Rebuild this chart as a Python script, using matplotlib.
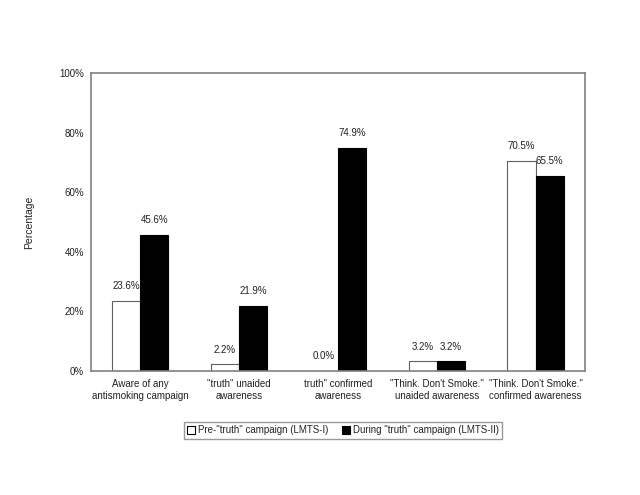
"""
Awareness of antismoking campaigns before and during the "truth" campaign
"""

import numpy as np
import matplotlib.pyplot as plt
from matplotlib import font_manager

# keep the regular Liberation Sans, drop the narrow cut
font_manager.fontManager.ttflist = [f for f in font_manager.fontManager.ttflist
                                    if 'Narrow' not in f.fname]
plt.rcParams['font.family'] = ['Liberation Sans', 'DejaVu Sans']

categories = ['Aware of any\nantismoking campaign',
              '"truth" unaided\nawareness',
              'truth" confirmed\nawareness',
              '"Think. Don\'t Smoke."\nunaided awareness',
              '"Think. Don\'t Smoke."\nconfirmed awareness']
pre_truth = [23.6, 2.2, 0.0, 3.2, 70.5]
during_truth = [45.6, 21.9, 74.9, 3.2, 65.5]
series_names = ['Pre-"truth" campaign (LMTS-I)',
                'During "truth" campaign (LMTS-II)']

fig = plt.figure(figsize=(6.4, 4.95), dpi=100)
ax = fig.add_axes([0.142, 0.2505, 0.772, 0.602])

x = np.arange(len(categories))
w = 0.285
b1 = ax.bar(x - w / 2, pre_truth, w, color='white', edgecolor='#606060',
            linewidth=0.8, label=series_names[0])
b2 = ax.bar(x + w / 2, during_truth, w, color='black', edgecolor='black',
            linewidth=0.8, label=series_names[1])

# value labels
for bars, vals in [(b1, pre_truth), (b2, during_truth)]:
    for rect, v in zip(bars, vals):
        ax.annotate(f'{v:.1f}%', (rect.get_x() + rect.get_width() / 2, v),
                    xytext=(0, 7), textcoords='offset points',
                    ha='center', va='bottom', fontsize=7, color='#222222')

ax.set_xlim(-0.5, len(categories) - 0.5)
ax.set_ylim(0, 100)
ax.set_yticks(np.arange(0, 101, 20))
ax.set_yticklabels([f'{t}%' for t in range(0, 101, 20)])
ax.set_xticks(x)
ax.set_xticklabels(categories, fontsize=7, linespacing=1.25, color='#222222')
ax.tick_params(axis='y', length=0, pad=5, labelsize=7, labelcolor='#222222')
ax.tick_params(axis='x', length=0, pad=6)

for s in ax.spines.values():
    s.set_color('#808080')
    s.set_linewidth(1.2)

ax.set_ylabel('Percentage', fontsize=7.5, labelpad=18, color='#222222')

leg = fig.legend(loc='upper center', bbox_to_anchor=(343 / 640, 1 - 422 / 495),
                 ncol=2, fontsize=7, frameon=True, fancybox=False,
                 handlelength=0.8, handleheight=0.8, handletextpad=0.3,
                 columnspacing=1.4, borderpad=0.35, borderaxespad=0)
leg.get_frame().set_edgecolor('#808080')
leg.get_frame().set_linewidth(1.0)
leg.legend_handles[0].set_edgecolor('black')
for t in leg.get_texts():
    t.set_color('#222222')

fig.savefig('out.png', dpi=100)
